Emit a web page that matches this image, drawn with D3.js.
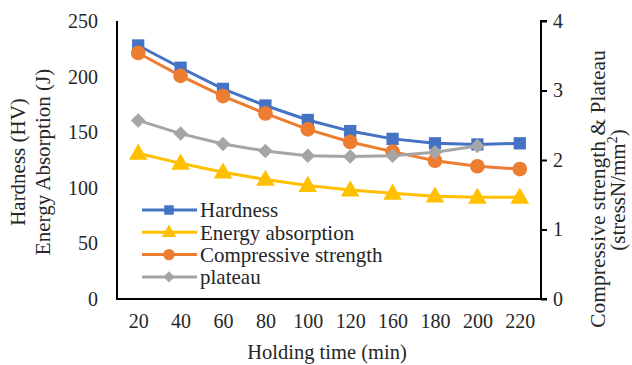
<!DOCTYPE html>
<html><head><meta charset="utf-8">
<script src="https://cdn.jsdelivr.net/npm/d3@7"></script>
<style>body{margin:0;background:#fff}svg{display:block}</style>
</head><body>
<script>
const categories = ["20","40","60","80","100","120","160","180","200","220"];
const hardness = [228, 208, 189, 174, 161, 151, 144, 140, 139, 140];
const energy = [131, 122, 114, 107.5, 102, 98, 95, 92.5, 91.5, 91.5];
const compressive = [3.54, 3.21, 2.92, 2.67, 2.44, 2.26, 2.12, 1.99, 1.91, 1.87];
const plateau = [2.57, 2.38, 2.23, 2.13, 2.06, 2.05, 2.06, 2.11, 2.20];
const leftTicks = [0, 50, 100, 150, 200, 250];
const rightTicks = [0, 1, 2, 3, 4];

const FONT = "Liberation Serif";
const W = 632, H = 365;
const m = {l:117, r:541, t:21, b:299};
const svg = d3.select("body").append("svg").attr("width", W).attr("height", H)
  .attr("font-family", FONT);

const x = d3.scalePoint().domain(categories).range([m.l, m.r]).padding(0.5);
const yL = d3.scaleLinear().domain([0, 250]).range([m.b, m.t]);
const yR = d3.scaleLinear().domain([0, 4]).range([m.b, m.t]);

const gL = svg.append("g").attr("transform", `translate(${m.l},0)`)
  .call(d3.axisLeft(yL).tickValues(leftTicks).tickSize(0).tickPadding(19));
const gR = svg.append("g").attr("transform", `translate(${m.r},0)`)
  .call(d3.axisRight(yR).tickValues(rightTicks).tickFormat(d3.format("d")).tickSize(6).tickPadding(6));
const gB = svg.append("g").attr("transform", `translate(0,${m.b})`)
  .call(d3.axisBottom(x).tickSize(0).tickPadding(15));
[gL, gR, gB].forEach(g => {
  g.attr("font-family", FONT).attr("font-size", 20);
  g.select(".domain").attr("stroke", "#000").attr("stroke-width", 2);
  g.selectAll(".tick line").attr("stroke", "#000").attr("stroke-width", 2);
  g.selectAll("text").attr("fill", "#262626").attr("font-family", FONT).attr("font-size", 20);
});
gB.select(".domain").attr("d", `M${m.l-1},0H${m.r}`);
gL.select(".domain").attr("d", `M0,${m.t}V${m.b}`);
gR.select(".domain").attr("d", `M6,${m.t}H0V${m.b}H6`);

function title(xp, yp, txt, size) {
  return svg.append("text").attr("transform", `translate(${xp},${yp}) rotate(-90)`)
    .attr("text-anchor", "middle").attr("dy", "0.35em").attr("font-family", FONT)
    .attr("font-size", size).attr("fill", "#262626").text(txt);
}
title(18, 162, "Hardness (HV)", 21);
title(43, 162, "Energy Absorption (J)", 21);
title(597, 189, "Compressive strength & Plateau", 21.5);
const t2 = svg.append("text").attr("transform", "translate(618,190) rotate(-90)")
  .attr("text-anchor", "middle").attr("dy", "0.35em").attr("font-family", FONT)
  .attr("font-size", 21).attr("fill", "#262626");
t2.append("tspan").text("(stressN/mm");
t2.append("tspan").attr("font-size", 14).attr("dy", -8).text("2");
t2.append("tspan").attr("dy", 8).text(")");
svg.append("text").attr("x", 327).attr("y", 359).attr("text-anchor", "middle")
  .attr("font-family", FONT).attr("font-size", 20.5).attr("fill", "#262626").text("Holding time (min)");

const series = [
  {name:"Hardness", data:hardness, y:yL, color:"#4472C4", shape:"square"},
  {name:"Energy absorption", data:energy, y:yL, color:"#FFC000", shape:"triangle"},
  {name:"Compressive strength", data:compressive, y:yR, color:"#ED7D31", shape:"circle"},
  {name:"plateau", data:plateau, y:yR, color:"#A5A5A5", shape:"diamond"}
];
function marker(g, s, px, py, k) {
  let type, size, rot = 0, dy = 0;
  if (s.shape === "square") { type = d3.symbolSquare; size = 150; }
  if (s.shape === "triangle") { type = d3.symbolTriangle; size = 150; dy = 1; }
  if (s.shape === "circle") { type = d3.symbolCircle; size = 170; }
  if (s.shape === "diamond") { type = d3.symbolSquare; size = 105; rot = 45; }
  g.append("path").attr("d", d3.symbol().type(type).size(size * k)())
    .attr("fill", s.color)
    .attr("transform", `translate(${px},${py + dy * k}) rotate(${rot})`);
}
series.forEach(s => {
  const g = svg.append("g");
  const pts = s.data.map((v,i) => [x(categories[i]), s.y(v)]);
  g.append("path").attr("d", d3.line()(pts)).attr("fill", "none")
    .attr("stroke", s.color).attr("stroke-width", 3);
  pts.forEach(p => marker(g, s, p[0], p[1], 1));
});

const lg = svg.append("g");
series.forEach((s, i) => {
  const yy = 210 + i * 22.3;
  lg.append("line").attr("x1", 142).attr("x2", 197).attr("y1", yy).attr("y2", yy)
    .attr("stroke", s.color).attr("stroke-width", 3);
  marker(lg, s, 169, yy, 0.6);
  lg.append("text").attr("x", 200).attr("y", yy).attr("dy", "0.35em")
    .attr("font-family", FONT).attr("font-size", 21).attr("fill", "#262626").text(s.name);
});
</script>
</body></html>
